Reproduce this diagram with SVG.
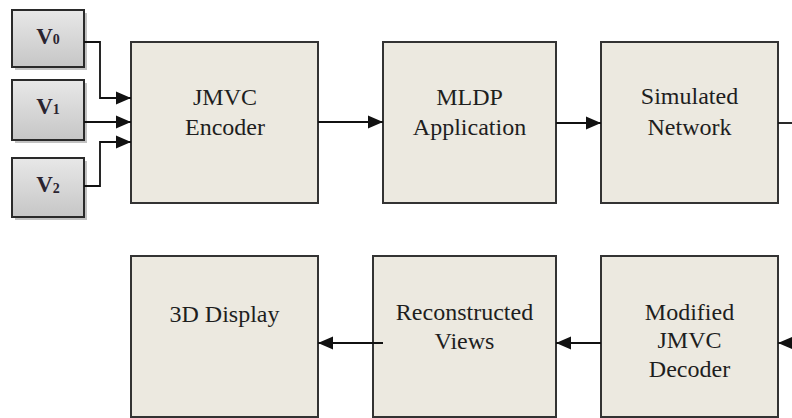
<svg xmlns="http://www.w3.org/2000/svg" width="792" height="418" viewBox="0 0 792 418">
<style>
.box{fill:#ECE9E0;stroke:#333;stroke-width:2}
.vbox{fill:url(#vg);stroke:#2a2a2a;stroke-width:2}
.shadow{fill:#9a9a9a;opacity:0.6}
.lbl{font-family:"Liberation Serif","Times New Roman",serif;font-size:24px;text-anchor:middle;fill:#1e1e1e}
.vl{font-family:"Liberation Serif","Times New Roman",serif;font-size:23px;font-weight:bold;text-anchor:middle;fill:#2a2430}
.sub{font-size:14px}
.conn{fill:none;stroke:#111;stroke-width:1.8}
</style>
<defs>
<linearGradient id="vg" x1="0" y1="0" x2="0" y2="1">
<stop offset="0" stop-color="#E8E8E8"/>
<stop offset="1" stop-color="#C6C6C6"/>
</linearGradient>
<marker id="ah" markerUnits="userSpaceOnUse" markerWidth="15" markerHeight="14" refX="15" refY="7" orient="auto">
<path d="M0,0.5 L15,7 L0,13.5 z" fill="#111"/>
</marker>
</defs>
<g id="v0">
<rect class="shadow" x="15" y="13" width="72" height="57"/>
<rect class="vbox" x="12" y="10" width="72" height="57"/>
<text class="vl" x="48" y="44">V<tspan class="sub">0</tspan></text>
</g>
<g id="v1">
<rect class="shadow" x="15" y="83" width="72" height="60"/>
<rect class="vbox" x="12" y="80" width="72" height="60"/>
<text class="vl" x="48" y="114">V<tspan class="sub">1</tspan></text>
</g>
<g id="v2">
<rect class="shadow" x="15" y="161" width="72" height="59"/>
<rect class="vbox" x="12" y="158" width="72" height="59"/>
<text class="vl" x="48" y="192">V<tspan class="sub" dy="1">2</tspan></text>
</g>
<g id="encoder">
<rect class="box" x="131" y="42" width="187" height="161"/>
<text class="lbl" x="225" y="105">JMVC</text>
<text class="lbl" x="225" y="135">Encoder</text>
</g>
<g id="mldp">
<rect class="box" x="383" y="42" width="173" height="161"/>
<text class="lbl" x="469.5" y="105">MLDP</text>
<text class="lbl" x="469.5" y="135">Application</text>
</g>
<g id="network">
<rect class="box" x="601" y="42" width="177" height="161"/>
<text class="lbl" x="689.5" y="104">Simulated</text>
<text class="lbl" x="689.5" y="135">Network</text>
</g>
<g id="display">
<rect class="box" x="131" y="256" width="187" height="161"/>
<text class="lbl" x="224.5" y="322">3D Display</text>
</g>
<g id="reconstructed">
<rect class="box" x="373" y="256" width="183" height="161"/>
<text class="lbl" x="464.5" y="320">Reconstructed</text>
<text class="lbl" x="464.5" y="349">Views</text>
</g>
<g id="decoder">
<rect class="box" x="601" y="256" width="177" height="161"/>
<text class="lbl" x="689.5" y="320">Modified</text>
<text class="lbl" x="689.5" y="348">JMVC</text>
<text class="lbl" x="689.5" y="377">Decoder</text>
</g>
<g id="connectors">
<path class="conn" d="M84,42 H100 V98 H131" marker-end="url(#ah)"/>
<path class="conn" d="M84,122 H131" marker-end="url(#ah)"/>
<path class="conn" d="M84,186 H100 V142 H131" marker-end="url(#ah)"/>
<path class="conn" d="M318,122 H383" marker-end="url(#ah)"/>
<path class="conn" d="M556,123 H601" marker-end="url(#ah)"/>
<path class="conn" d="M778,123 H792"/>
<path class="conn" d="M792,343 H778" marker-end="url(#ah)"/>
<path class="conn" d="M601,343 H556" marker-end="url(#ah)"/>
<path class="conn" d="M383,343 H318" marker-end="url(#ah)"/>
</g>
</svg>
